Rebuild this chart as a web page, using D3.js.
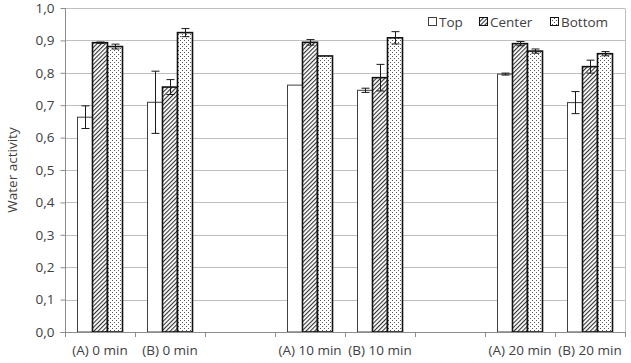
<!DOCTYPE html>
<html><head><meta charset="utf-8">
<script src="https://cdn.jsdelivr.net/npm/d3@7"></script>
<style>body{margin:0;background:#fff}svg{display:block}text{font-family:"Open Sans",sans-serif;fill:#404040}</style>
</head><body>
<svg id="c" width="631" height="363"></svg>
<script>
const categories = ["(A) 0 min","(B) 0 min","","(A) 10 min","(B) 10 min","","(A) 20 min","(B) 20 min"];
const seriesNames = ["Top","Center","Bottom"];
const topVals    = [0.663,0.709,null,0.762,0.746,null,0.796,0.708];
const topErr     = [0.035,0.096,null,0,0.0065,null,0.003,0.034];
const centerVals = [0.893,0.756,null,0.894,0.785,null,0.890,0.819];
const centerErr  = [0.002,0.023,null,0.0085,0.041,null,0.0065,0.020];
const bottomVals = [0.881,0.924,null,0.852,0.908,null,0.867,0.859];
const bottomErr  = [0.0075,0.0125,null,0,0.019,null,0.0065,0.0065];
const yTicks = [0,0.1,0.2,0.3,0.4,0.5,0.6,0.7,0.8,0.9,1.0];
const yTitle = "Water activity";

const values = [topVals, centerVals, bottomVals];
const errs = [topErr, centerErr, bottomErr];

const svg = d3.select("#c");
const L = 65, R = 625, T = 8, B = 332;
const idx = categories.map((d,i)=>i);
const x = d3.scaleBand().domain(idx).range([L,R]).paddingInner(0).paddingOuter(0);
const y = d3.scaleLinear().domain([0,1]).range([B,T]);
const xs = d3.scaleBand().domain(seriesNames).range([0, 45]);
const groupOff = (x.bandwidth()-45)/2;

const defs = svg.append("defs");
const ph = defs.append("pattern").attr("id","hatch").attr("patternUnits","userSpaceOnUse")
  .attr("width",3).attr("height",3).attr("patternTransform","rotate(45)");
ph.append("rect").attr("width",3).attr("height",3).attr("fill","#fff");
ph.append("rect").attr("width",1.1).attr("height",3).attr("fill","#333");
const pd = defs.append("pattern").attr("id","dots").attr("patternUnits","userSpaceOnUse")
  .attr("width",4).attr("height",4);
pd.append("rect").attr("width",4).attr("height",4).attr("fill","#fff");
pd.append("rect").attr("x",0).attr("y",0).attr("width",1).attr("height",1).attr("fill","#555");
pd.append("rect").attr("x",2).attr("y",2).attr("width",1).attr("height",1).attr("fill","#555");
const fills = ["#fff","url(#hatch)","url(#dots)"];
const strokes = ["#404040","#111","#111"];
const sw = [1,1.6,1.6];

// gridlines
svg.append("g").selectAll("line").data(yTicks.filter(d=>d>0)).join("line")
  .attr("x1",L).attr("x2",R).attr("y1",d=>Math.round(y(d))+0.5).attr("y2",d=>Math.round(y(d))+0.5)
  .attr("stroke","#bfbfbf").attr("stroke-width",1);
// right border
svg.append("line").attr("x1",R+0.5).attr("x2",R+0.5).attr("y1",Math.round(y(1))+0.5).attr("y2",B)
  .attr("stroke","#bfbfbf");

// bars
seriesNames.forEach((s,si)=>{
  const g = svg.append("g");
  const data = idx.filter(i=>values[si][i]!=null);
  g.selectAll("rect").data(data).join("rect")
    .attr("x",i=>x(i)+groupOff+xs(s))
    .attr("width",xs.bandwidth())
    .attr("y",i=>y(values[si][i]))
    .attr("height",i=>B-y(values[si][i]))
    .attr("fill",fills[si]).attr("stroke",strokes[si]).attr("stroke-width",sw[si]);
});
// error bars
seriesNames.forEach((s,si)=>{
  const g = svg.append("g").attr("stroke","#1a1a1a").attr("stroke-width",1);
  idx.filter(i=>values[si][i]!=null && errs[si][i]>0).forEach(i=>{
    const cx = Math.round(x(i)+groupOff+xs(s)+xs.bandwidth()/2)+0.5;
    const v = values[si][i], e = errs[si][i];
    g.append("line").attr("x1",cx).attr("x2",cx).attr("y1",y(v+e)).attr("y2",y(v-e));
    [v+e,v-e].forEach(t=>g.append("line").attr("x1",cx-4).attr("x2",cx+4).attr("y1",y(t)).attr("y2",y(t)));
  });
});

// y axis
const ya = svg.append("g").attr("transform",`translate(${L+0.5},0)`)
  .call(d3.axisLeft(y).tickValues(yTicks).tickSize(5).tickPadding(6).tickFormat(d=>d3.format(".1f")(d).replace(".",",")));
ya.select(".domain").attr("stroke","#8c8c8c").attr("d",`M-5,${B+0.5}H0V${T}`);
ya.selectAll(".tick line").attr("stroke","#8c8c8c");
ya.selectAll("text").style("font-size","13.5px").attr("fill","#404040");

// x axis
const xa = svg.append("g").attr("transform",`translate(0,${B+0.5})`)
  .call(d3.axisBottom(x).tickSize(0).tickPadding(13).tickFormat(i=>categories[i]));
xa.select(".domain").attr("stroke","#8c8c8c").attr("d",`M${L},0H${R+0.5}`);
xa.selectAll("text").style("font-size","13.5px").attr("fill","#404040");
svg.append("g").selectAll("line").data(idx.concat([idx.length])).join("line")
  .attr("x1",i=>i<idx.length?Math.round(x(i))+0.5:R+0.5).attr("x2",i=>i<idx.length?Math.round(x(i))+0.5:R+0.5)
  .attr("y1",B).attr("y2",B+5).attr("stroke","#8c8c8c");

// y title
svg.append("text").attr("transform",`translate(17,${(T+B)/2}) rotate(-90)`)
  .attr("text-anchor","middle").style("font-size","13.5px").text(yTitle);

// legend
const lg = svg.append("g");
const lx = [428,479,550];
seriesNames.forEach((s,si)=>{
  lg.append("rect").attr("x",lx[si]+0.5).attr("y",17.5).attr("width",8).attr("height",8)
    .attr("fill",fills[si]).attr("stroke",strokes[si]).attr("stroke-width",1);
  lg.append("text").attr("x",lx[si]+11).attr("y",26.5).style("font-size","13.5px").text(s);
});
</script>
</body></html>
